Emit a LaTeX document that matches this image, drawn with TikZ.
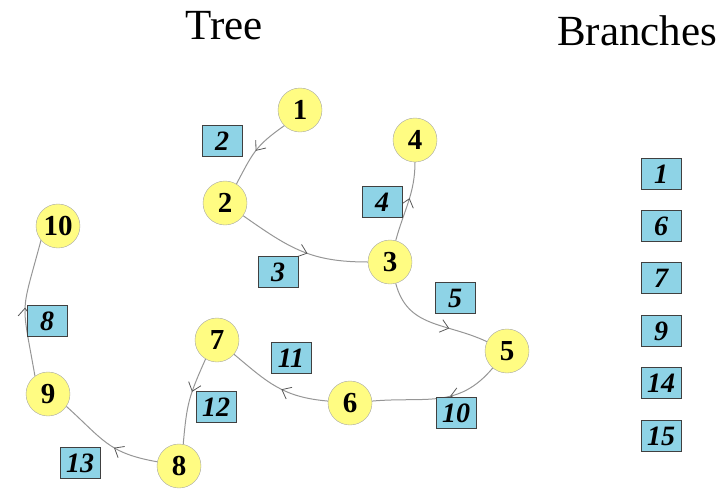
\documentclass[tikz,border=0pt]{standalone}
\usepackage{fontspec}
\setmainfont{Liberation Serif}
\usetikzlibrary{arrows.meta,decorations.markings}
\definecolor{nodeyellow}{RGB}{255,252,130}
\definecolor{boxblue}{RGB}{142,211,230}
\definecolor{edgegray}{RGB}{150,150,150}
\tikzset{
  vert/.style={circle,draw=gray!70,fill=nodeyellow,minimum size=44pt,inner sep=0pt,
    font=\fontsize{29}{29}\selectfont\bfseries},
  lbl/.style={rectangle,draw=black!75,fill=boxblue,minimum width=40pt,minimum height=31pt,inner sep=0pt,
    font=\fontsize{28}{28}\selectfont\bfseries\itshape},
  ttl/.style={font=\fontsize{43}{43}\selectfont,anchor=base},
  edge/.style={draw=edgegray,line width=1pt},
  midarr/.style={postaction={decorate,decoration={markings,
    mark=at position #1 with {\arrow[black!65,line width=0.8pt]{Straight Barb[length=8pt,width=13pt]}}}}}
}
\begin{document}
\begin{tikzpicture}[x=1pt,y=1pt]
\useasboundingbox (0,-488) rectangle (721,0);
% titles
\node[ttl] (ttree) at (224,-39) {Tree};
\node[ttl] (tbr) at (637,-45) {Branches};
% vertices
\node[vert] (n1) at (300,-110) {1};
\node[vert] (n2) at (225,-203) {2};
\node[vert] (n3) at (390,-262) {3};
\node[vert] (n4) at (415,-140) {4};
\node[vert] (n5) at (507,-351) {5};
\node[vert] (n6) at (350,-403) {6};
\node[vert] (n7) at (217,-340) {7};
\node[vert] (n8) at (179,-466) {8};
\node[vert] (n9) at (48,-394) {9};
\node[vert] (n10) at (58,-226) {10};
% edges
\draw[edge,midarr=0.5] (n1.225) to[out=215,in=62,looseness=1.2] (n2.59);
\draw[edge,midarr=0.55] (n2) to[out=-35,in=180,looseness=1.1] (n3);
\draw[edge,midarr=0.55] (n3) to[out=75,in=-90] (n4);
\draw[edge,midarr=0.65] (n3) to[out=-75,in=155,looseness=1.1] (n5);
\draw[edge,midarr=0.4] (n5) to[out=-130,in=5,looseness=1.1] (n6);
\draw[edge,midarr=0.45] (n6) to[out=175,in=-40,looseness=1.1] (n7);
\draw[edge,midarr=0.4] (n7.239) to[out=-114,in=85,looseness=1.2] (n8.79);
\draw[edge,midarr=0.42] (n8.169) to[out=170,in=-42,looseness=1.2] (n9.-34);
\draw[edge,midarr=0.5] (n9.126) to[out=100,in=-105,looseness=1.5] (n10.-140);
% edge labels
\node[lbl] (l2) at (222,-141) {2};
\node[lbl] (l3) at (278,-272) {3};
\node[lbl] (l4) at (382,-202) {4};
\node[lbl] (l5) at (455,-298) {5};
\node[lbl] (l11) at (291,-358) {11};
\node[lbl] (l10) at (456,-413) {10};
\node[lbl] (l12) at (216,-407) {12};
\node[lbl] (l13) at (80,-463) {13};
\node[lbl] (l8) at (47,-321) {8};
% branches
\node[lbl] (b1) at (661,-174) {1};
\node[lbl] (b6) at (661,-226) {6};
\node[lbl] (b7) at (661,-278) {7};
\node[lbl] (b9) at (661,-331) {9};
\node[lbl] (b14) at (661,-383) {14};
\node[lbl] (b15) at (661,-436) {15};
\end{tikzpicture}
\end{document}
